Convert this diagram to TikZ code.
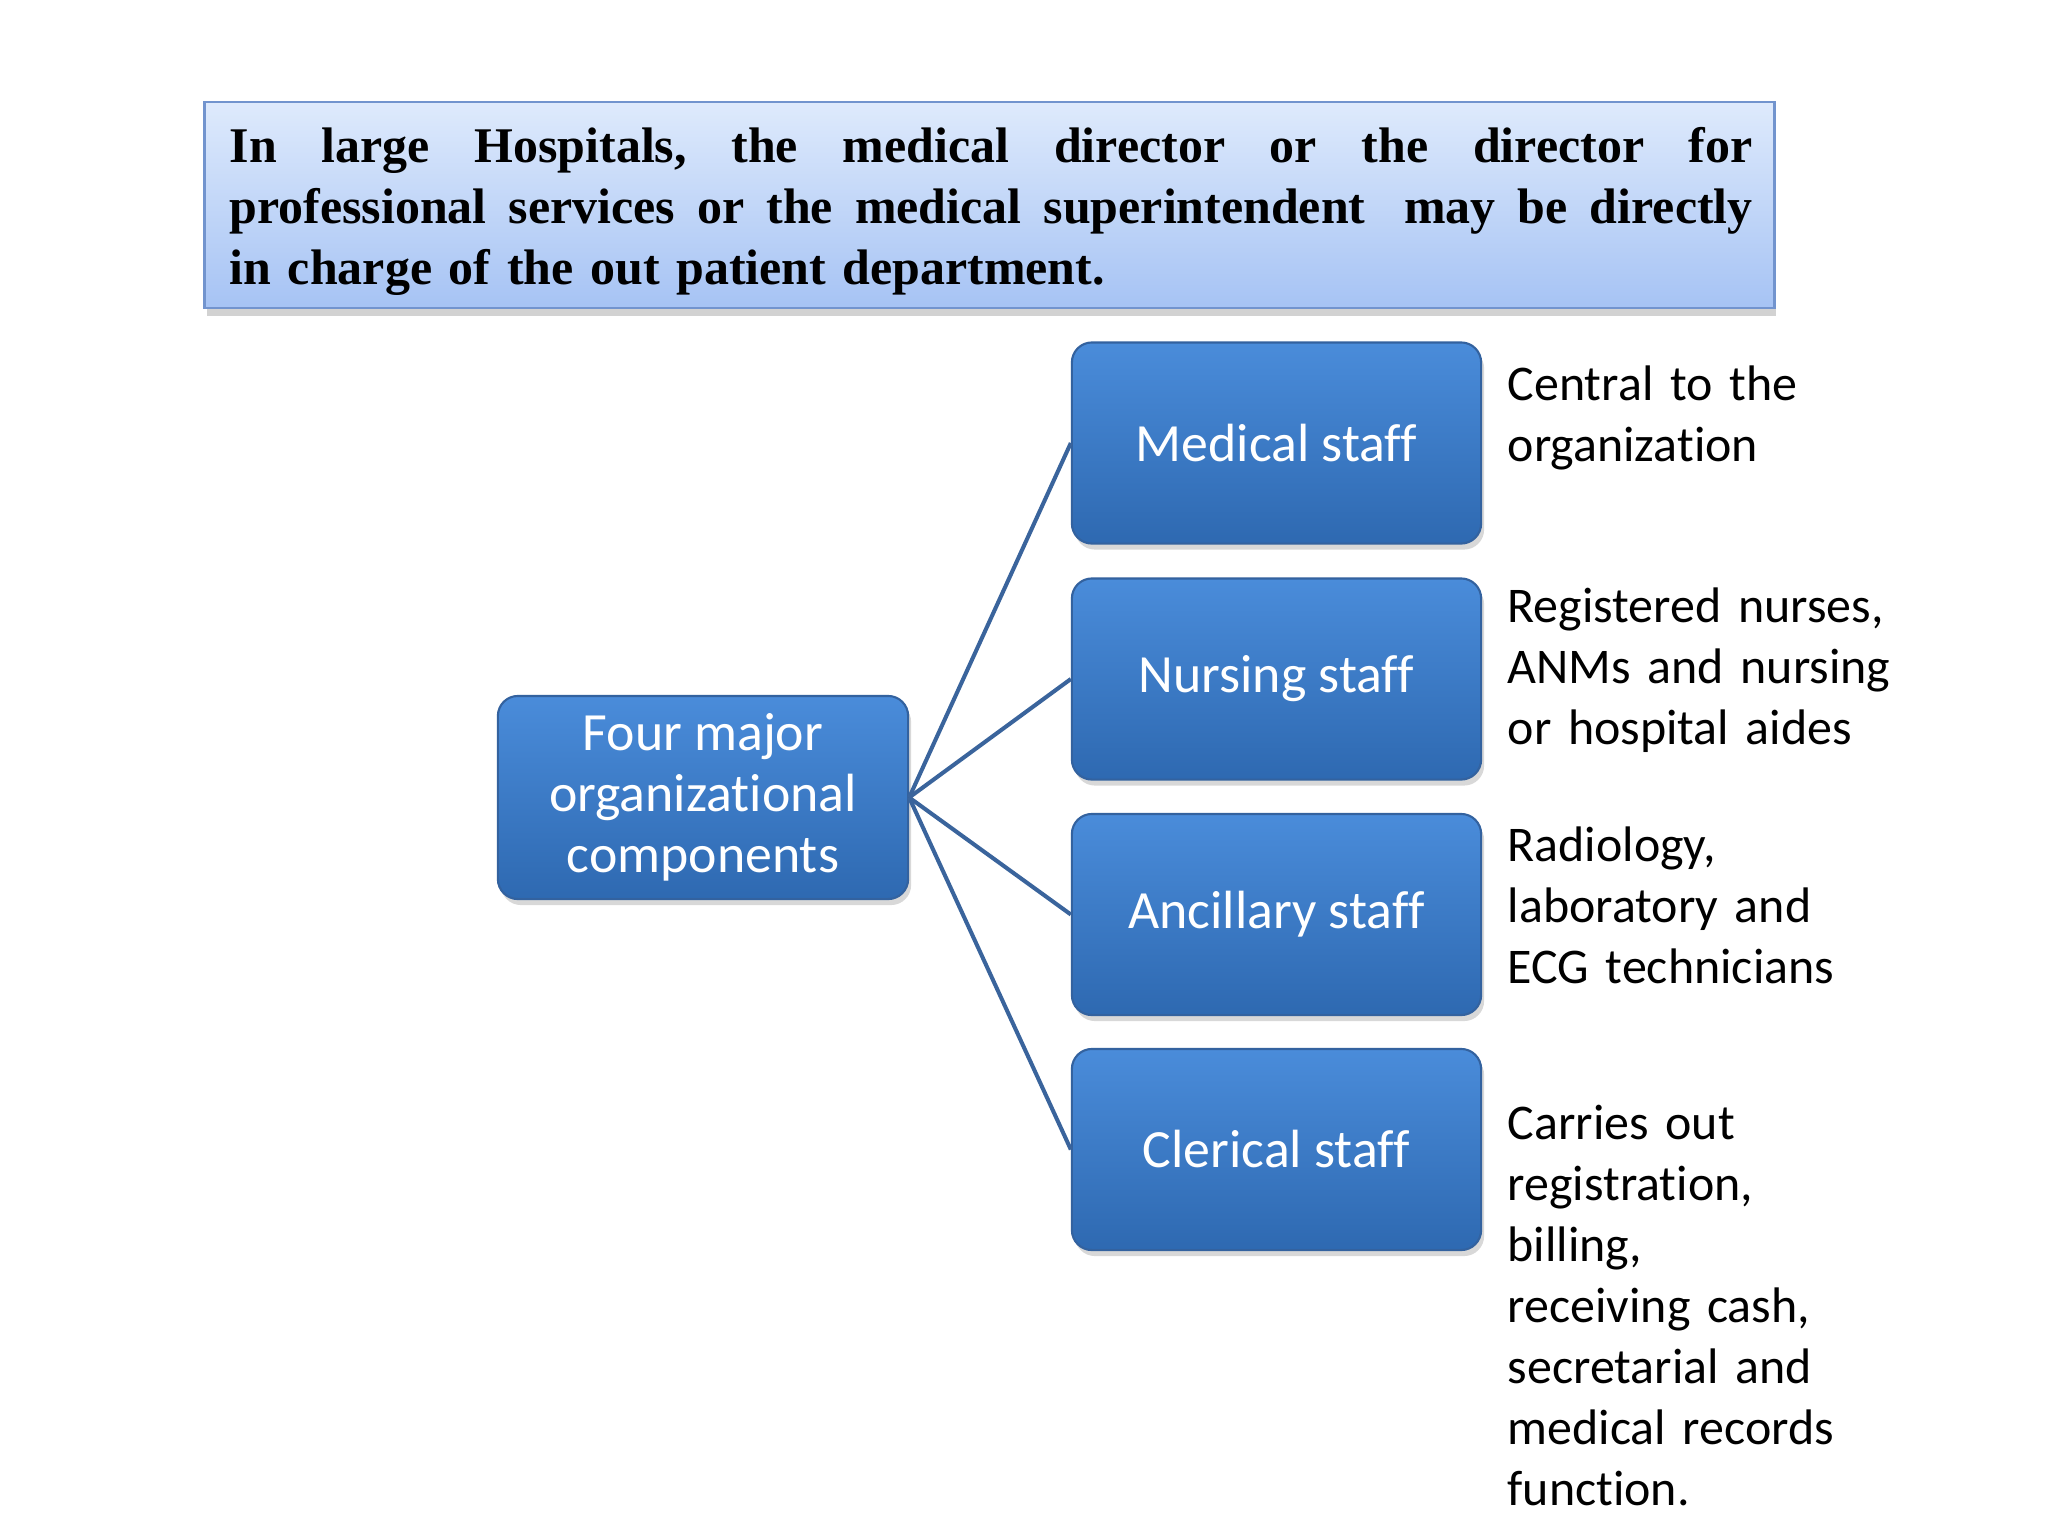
\documentclass[tikz,border=0pt]{standalone}
\usepackage{fontspec}
\setmainfont{Liberation Serif}
\newfontfamily\carl[Ligatures=NoCommon]{Carlito}
\usetikzlibrary{shadows}
\definecolor{topTop}{HTML}{DEEAFC}
\definecolor{topBot}{HTML}{A6C3F4}
\definecolor{topBorder}{HTML}{7294CE}
\definecolor{boxTop}{HTML}{4A8CDA}
\definecolor{boxBot}{HTML}{2E69B1}
\definecolor{boxBorder}{HTML}{33629F}
\definecolor{connCol}{HTML}{3A649C}
\tikzset{
  bluebox/.style={draw=boxBorder, line width=0.6pt, rounded corners=0.2cm,
    top color=boxTop, bottom color=boxBot, minimum width=4.09cm, minimum height=2.01cm,
    text=white, align=center, inner sep=0pt,
    font=\carl\fontsize{15.3pt}{17.36pt}\selectfont,
    drop shadow={opacity=0.3, shadow xshift=0.03cm, shadow yshift=-0.06cm}},
  desc/.style={anchor=base west, text width=5cm, align=left, inner sep=0pt,
    font=\carl\fontsize{14.2pt}{17.36pt}\selectfont, text=black},
  conn/.style={draw=connCol, line width=1.15pt}
}
\begin{document}
\begin{tikzpicture}[x=0.01cm, y=-0.01cm]
\useasboundingbox[fill=white] (0,0) rectangle (2048,1536);
% top box
\node[draw=topBorder, line width=0.8pt, top color=topTop, bottom color=topBot,
  minimum width=15.69cm, minimum height=2.06cm, inner sep=0pt,
  drop shadow={opacity=0.35, shadow xshift=0.02cm, shadow yshift=-0.08cm}] (topbox) at (989.5,205) {};
\node[anchor=base west, inner sep=0pt, text width=15.22cm, align=left,
  font=\bfseries\fontsize{14.2pt}{17.36pt}\selectfont] (toptext) at (229,162)
  {\leavevmode\hbox to 15.22cm{In\hfill large\hfill Hospitals,\hfill the\hfill medical\hfill director\hfill or\hfill the\hfill director\hfill for}\\
   \leavevmode\hbox to 15.22cm{professional\hfill services\hfill or\hfill the\hfill medical\hfill superintendent\ \hfill may\hfill be\hfill directly}\\
   in charge of the out patient department.};
% nodes
\node[bluebox, minimum width=4.10cm, minimum height=2.03cm] (four) at (703,797.5) {Four major\\organizational\\components};
\node[bluebox] (med) at (1276.5,443) {Medical staff};
\node[bluebox] (nurs) at (1276.5,679) {Nursing staff};
\node[bluebox] (anc) at (1276.5,914.5) {Ancillary staff};
\node[bluebox] (cler) at (1276.5,1149.5) {Clerical staff};
% connectors
\draw[conn] (four.east) -- (med.west);
\draw[conn] (four.east) -- (nurs.west);
\draw[conn] (four.east) -- (anc.west);
\draw[conn] (four.east) -- (cler.west);
% descriptions
\node[desc] (dmed) at (1507,400) {Central to the\\organization};
\node[desc] (dnurs) at (1507,622) {Registered nurses,\\ANMs and nursing\\or hospital aides};
\node[desc] (danc) at (1507,861) {Radiology,\\laboratory and\\ECG technicians};
\node[desc] (dcler) at (1507,1139) {Carries out\\registration,\\billing,\\receiving cash,\\secretarial and\\medical records\\function.};
\end{tikzpicture}
\end{document}
